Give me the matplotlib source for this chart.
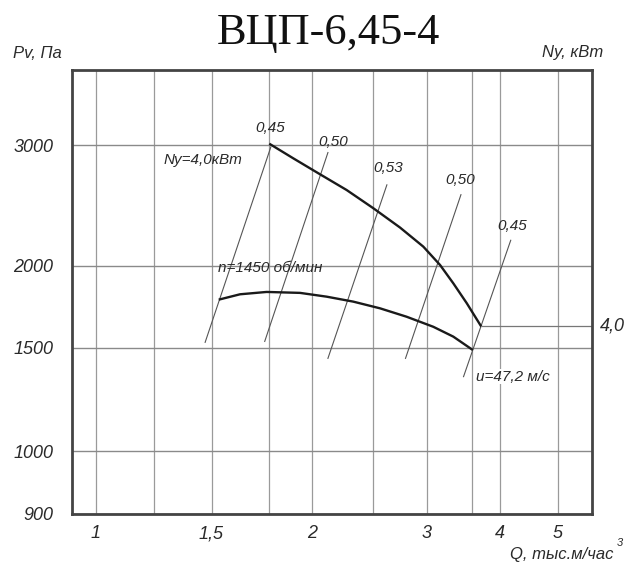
import numpy as np
import matplotlib.pyplot as plt

# fan characteristic VCP-6,45-4
# upper curve (ends where Ny=4,0 line starts)
q_upper = [1.757, 1.887, 2.059, 2.27, 2.503, 2.739, 2.963, 3.137, 3.283, 3.438, 3.649]
p_upper = [3007, 2869, 2720, 2580, 2427, 2275, 2134, 2007, 1882, 1755, 1622]

# lower curve n=1450 rpm
q_lower = [1.534, 1.619, 1.739, 1.927, 2.110, 2.326, 2.56, 2.80, 3.065, 3.283, 3.498]
p_lower = [1779, 1811, 1826, 1820, 1796, 1765, 1724, 1674, 1616, 1561, 1492]

# efficiency rays: (q0, p0, q1, p1, label, label_q, label_p)
eta_lines = [
    (1.47, 1530, 1.76, 2980, '0,45', 1.755, 3175),
    (1.73, 1535, 2.12, 2925, '0,50', 2.16, 3035),
    (2.12, 1440, 2.62, 2625, '0,53', 2.63, 2775),
    (2.79, 1440, 3.37, 2540, '0,50', 3.36, 2665),
    (3.40, 1340, 4.17, 2180, '0,45', 4.20, 2290),
]

ny_q = 3.649
ny_p = 1622

x_ticks = [1, 1.5, 2, 3, 4, 5]
x_labels = ['1', '1,5', '2', '3', '4', '5']
x_minor = [1.25, 1.75, 2.5, 3.5]
y_ticks = [900, 1000, 1500, 2000, 3000]

# the printed grid is not a clean log grid, so the scale follows its lines
QX = np.log10([0.913, 1, 1.25, 1.5, 1.75, 2, 2.5, 3, 3.5, 4, 5, 5.72])
PX = np.array([72, 95.7, 154, 211.5, 269, 312, 373, 427, 472, 500, 557.5, 592])
QY = np.log10([900, 1000, 1500, 2000, 3000, 3860])
PY = -np.array([514, 451, 348, 266, 145, 70])


def fx(q):
    return np.interp(np.log10(np.clip(q, 1e-9, None)), QX, PX)


def ix(p):
    return 10 ** np.interp(p, PX, QX)


def fy(v):
    return np.interp(np.log10(np.clip(v, 1e-9, None)), QY, PY)


def iy(p):
    return 10 ** np.interp(p, PY, QY)


plt.rcParams['font.family'] = ['Liberation Sans', 'DejaVu Sans']
TXT = '#2a2a2a'

fig = plt.figure(figsize=(6.39, 5.69), dpi=100)
ax = fig.add_axes([72 / 639, 55 / 569, 520 / 639, 444 / 569])
ax.set_xscale('function', functions=(fx, ix))
ax.set_yscale('function', functions=(fy, iy))
ax.set_xlim(0.913, 5.72)
ax.set_ylim(900, 3860)

ax.set_xticks(x_ticks)
ax.set_xticklabels(x_labels)
ax.set_xticks(x_minor, minor=True)
ax.set_yticks(y_ticks)
ax.set_yticklabels([str(v) for v in y_ticks])
ax.set_yticks([], minor=True)

ax.grid(True, which='both', axis='x', color='#9a9a9a', lw=0.9)
ax.grid(True, which='major', axis='y', color='#8a8a8a', lw=1.0)
ax.tick_params(which='both', length=0)
ax.tick_params(axis='x', pad=8, labelsize=13)
ax.tick_params(axis='y', pad=13.5, labelsize=13)
for lab in ax.get_xticklabels() + ax.get_yticklabels():
    lab.set_style('italic')
    lab.set_color(TXT)
for s in ax.spines.values():
    s.set_linewidth(2.0)
    s.set_color('#444444')

# efficiency rays
for q0, p0, q1, p1, lab, lq, lp in eta_lines:
    ax.plot([q0, q1], [p0, p1], color='#555555', lw=0.8)
    ax.text(lq, lp, lab, ha='center', va='center', fontsize=11,
            style='italic', color=TXT)

ax.plot(q_upper, p_upper, color='#1a1a1a', lw=1.7)
ax.plot(q_lower, p_lower, color='#1a1a1a', lw=1.7)
ax.plot([ny_q, 5.72], [ny_p, ny_p], color='#777777', lw=0.9)

ax.text(1.46, 2855, 'Ny=4,0кВт', ha='center', va='center', fontsize=11,
        style='italic', color=TXT)
ax.text(1.755, 1985, 'n=1450 об/мин', ha='center', va='center', fontsize=11,
        style='italic', color=TXT)
ax.text(4.21, 1340, 'u=47,2 м/с', ha='center', va='center', fontsize=11,
        style='italic', color=TXT,
        bbox=dict(facecolor='white', edgecolor='none', pad=0.5))
ax.text(1.04, ny_p, '4,0', transform=ax.get_yaxis_transform(), ha='center',
        va='center', fontsize=13, style='italic', color=TXT)

fig.text(328 / 639, 1 - 33 / 569, 'ВЦП-6,45-4', ha='center', va='center',
         fontsize=32, family=['Liberation Serif', 'DejaVu Serif'], color='#111111')
fig.text(37 / 639, 1 - 53 / 569, 'Pv, Па', ha='center', va='center',
         fontsize=12, style='italic', color=TXT)
fig.text(573 / 639, 1 - 53 / 569, 'Ny, кВт', ha='center', va='center',
         fontsize=12, style='italic', color=TXT)
fig.text(562 / 639, 1 - 555 / 569, 'Q, тыс.м/час', ha='center', va='center',
         fontsize=12, style='italic', color=TXT)
fig.text(620 / 639, 1 - 543 / 569, '3', ha='center', va='center',
         fontsize=8, style='italic', color=TXT)

fig.savefig('out.png', dpi=100)
